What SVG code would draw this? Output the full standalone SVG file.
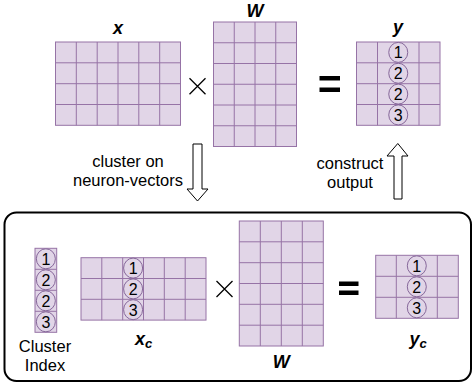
<svg xmlns="http://www.w3.org/2000/svg" width="473" height="385" viewBox="0 0 473 385">
<defs>
<style>
.m{fill:#e1d5e7;stroke:#9673a6;stroke-width:1}
.g{fill:none;stroke:#9673a6;stroke-width:1}
.c{fill:#e1d5e7;stroke:#86679a;stroke-width:1}
.n{font-family:"Liberation Sans",Arial,Helvetica,sans-serif;font-size:16px;text-anchor:middle;fill:#000}
.t{font-family:"Liberation Sans",Arial,Helvetica,sans-serif;font-size:16.5px;text-anchor:middle;fill:#000}
.v{font-family:"Liberation Sans",Arial,Helvetica,sans-serif;font-size:18px;font-weight:bold;font-style:italic;text-anchor:middle;fill:#000}
.op{stroke:#000;stroke-width:1.3;fill:none}
.arr{fill:#fff;stroke:#000;stroke-width:1}
</style>
</defs>
<rect width="473" height="385" fill="#fff"/>

<g id="x-top">
<rect class="m" x="55.5" y="42" width="125" height="83.3"/>
<path class="g" d="M76.3 42V125.3M97.2 42V125.3M118 42V125.3M138.8 42V125.3M159.7 42V125.3M55.5 62.8H180.5M55.5 83.7H180.5M55.5 104.5H180.5"/>
<text class="v" x="118" y="34">x</text>
</g>

<g id="times-top"><path class="op" d="M189.5 78.3L205.5 94.3M205.5 78.3L189.5 94.3"/></g>

<g id="W-top">
<rect class="m" x="213.5" y="22" width="83" height="124.5"/>
<path class="g" d="M234.25 22V146.5M255 22V146.5M275.75 22V146.5M213.5 42.75H296.5M213.5 63.5H296.5M213.5 84.25H296.5M213.5 105H296.5M213.5 125.75H296.5"/>
<text class="v" x="255" y="17">W</text>
</g>

<g id="eq-top"><rect x="319.5" y="76" width="20.5" height="4.5"/><rect x="319.5" y="87.5" width="20.5" height="4.5"/></g>

<g id="y-top">
<rect class="m" x="356.5" y="42" width="83.5" height="83.3"/>
<path class="g" d="M377.5 42V125.3M419 42V125.3M356.5 62.8H440M356.5 83.7H440M356.5 104.5H440"/>
<ellipse class="c" cx="398.25" cy="52.4" rx="9.5" ry="10"/>
<ellipse class="c" cx="398.25" cy="73.25" rx="9.5" ry="10"/>
<ellipse class="c" cx="398.25" cy="94.1" rx="9.5" ry="10"/>
<ellipse class="c" cx="398.25" cy="114.9" rx="9.5" ry="10"/>
<text class="n" x="398.25" y="58.2">1</text>
<text class="n" x="398.25" y="79">2</text>
<text class="n" x="398.25" y="99.9">2</text>
<text class="n" x="398.25" y="120.7">3</text>
<text class="v" x="398" y="33">y</text>
</g>

<g id="connectors">
<polygon class="arr" points="193,144 202,144 202,189 208,189 197.5,201 187,189 193,189"/>
<polygon class="arr" points="394,199 402,199 402,156 408,156 397.8,143.5 387,156 394,156"/>
</g>

<g id="label-cluster">
<text class="t" x="128" y="167">cluster on</text>
<text class="t" x="128" y="185.5">neuron-vectors</text>
</g>
<g id="label-construct">
<text class="t" x="350" y="169">construct</text>
<text class="t" x="350" y="187.5">output</text>
</g>

<g id="cluster-box"><rect x="4.5" y="212.5" width="466.5" height="168.5" rx="12" fill="none" stroke="#000" stroke-width="2"/></g>

<g id="cluster-index">
<rect class="m" x="35" y="248.3" width="21.7" height="84"/>
<path class="g" d="M35 269.3H56.7M35 290.3H56.7M35 311.3H56.7"/>
<ellipse class="c" cx="45.85" cy="258.8" rx="9.5" ry="10"/>
<ellipse class="c" cx="45.85" cy="279.8" rx="9.5" ry="10"/>
<ellipse class="c" cx="45.85" cy="300.8" rx="9.5" ry="10"/>
<ellipse class="c" cx="45.85" cy="321.8" rx="9.5" ry="10"/>
<text class="n" x="45.85" y="264.6">1</text>
<text class="n" x="45.85" y="285.6">2</text>
<text class="n" x="45.85" y="306.6">2</text>
<text class="n" x="45.85" y="327.6">3</text>
<text class="t" x="45" y="352">Cluster</text>
<text class="t" x="45" y="371">Index</text>
</g>

<g id="xc">
<rect class="m" x="81" y="257.7" width="125" height="62.4"/>
<path class="g" d="M101.8 257.7V320.1M122.7 257.7V320.1M143.5 257.7V320.1M164.3 257.7V320.1M185.2 257.7V320.1M81 278.5H206M81 299.3H206"/>
<ellipse class="c" cx="133.1" cy="268.1" rx="9.5" ry="10"/>
<ellipse class="c" cx="133.1" cy="288.9" rx="9.5" ry="10"/>
<ellipse class="c" cx="133.1" cy="309.7" rx="9.5" ry="10"/>
<text class="n" x="133.1" y="273.9">1</text>
<text class="n" x="133.1" y="294.7">2</text>
<text class="n" x="133.1" y="315.5">3</text>
<text class="v" x="143.5" y="345">x<tspan font-size="13" dy="3">c</tspan></text>
</g>

<g id="times-bottom"><path class="op" d="M216.5 281L232.5 297M232.5 281L216.5 297"/></g>

<g id="W-bottom">
<rect class="m" x="239.3" y="221" width="84" height="125"/>
<path class="g" d="M260.3 221V346M281.3 221V346M302.3 221V346M239.3 241.8H323.3M239.3 262.7H323.3M239.3 283.5H323.3M239.3 304.3H323.3M239.3 325.2H323.3"/>
<text class="v" x="281.3" y="368">W</text>
</g>

<g id="eq-bottom"><rect x="339" y="281.5" width="19.5" height="4.5"/><rect x="339" y="290.5" width="19.5" height="4.5"/></g>

<g id="yc">
<rect class="m" x="375.7" y="255.3" width="82.6" height="63"/>
<path class="g" d="M396.3 255.3V318.3M437.3 255.3V318.3M375.7 276.3H458.3M375.7 297.3H458.3"/>
<ellipse class="c" cx="416.8" cy="265.8" rx="9.5" ry="10"/>
<ellipse class="c" cx="416.8" cy="286.8" rx="9.5" ry="10"/>
<ellipse class="c" cx="416.8" cy="307.8" rx="9.5" ry="10"/>
<text class="n" x="416.8" y="271.6">1</text>
<text class="n" x="416.8" y="292.6">2</text>
<text class="n" x="416.8" y="313.6">3</text>
<text class="v" x="418" y="345">y<tspan font-size="13" dy="3">c</tspan></text>
</g>
</svg>
